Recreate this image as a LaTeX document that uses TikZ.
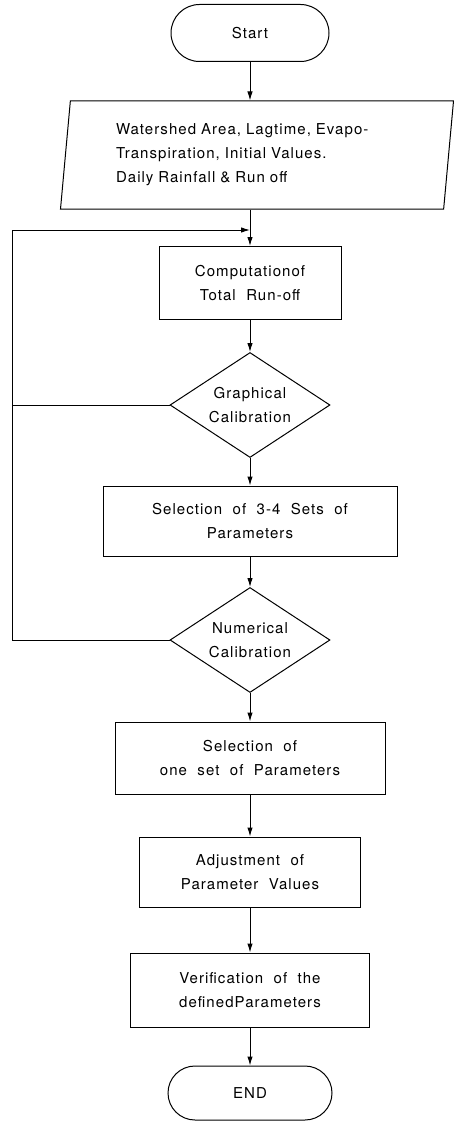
\documentclass[tikz,border=0pt]{standalone}
\usepackage{fontspec}
\setmainfont{TeX Gyre Heros}[LetterSpace=7,WordSpace=2]
\usetikzlibrary{shapes.geometric, shapes.misc, arrows.meta}

\tikzset{
  flowtext/.style={font=\fontsize{15}{24}\selectfont, align=center, inner sep=0pt},
  terminal/.style={rounded rectangle, draw, line width=1pt, flowtext},
  iobox/.style={trapezium, trapezium left angle=81, trapezium right angle=99,
    trapezium stretches body, draw, line width=1pt, flowtext, align=left},
  procbox/.style={rectangle, draw, line width=1pt, flowtext},
  decision/.style={diamond, aspect=1.52, draw, line width=1pt, flowtext,
    minimum width=160, minimum height=105},
  flow/.style={line width=1pt, -{Latex[length=9pt,width=5.5pt]}},
}

\begin{document}
\begin{tikzpicture}[x=1pt,y=-1pt]
  \path[use as bounding box] (0,0) rectangle (453,1121);
  \fill[white] (0,0) rectangle (453,1121);

  % terminals and steps, top to bottom
  \node[terminal, minimum width=158, minimum height=57] (start) at (250,33) {Start};
  \node[iobox, minimum width=393, minimum height=108, text width=282] (data) at (257,155)
    {Watershed Area, Lagtime, Evapo-\\Transpiration, Initial Values.\\Daily Rainfall \& Run off};
  \node[procbox, minimum width=182, minimum height=73] (comp) at (250,283)
    {Computationof\\Total Run-off};
  \node[decision] (graph) at (250,405) {Graphical\\Calibration};
  \node[procbox, minimum width=294, minimum height=70] (setsel) at (250,521)
    {Selection of 3-4 Sets of\\Parameters};
  \node[decision] (numcal) at (250,640) {Numerical\\Calibration};
  \node[procbox, minimum width=270, minimum height=72] (onesel) at (250,758)
    {Selection of\\one set of Parameters};
  \node[procbox, minimum width=221, minimum height=70] (adjust) at (250,872)
    {Adjustment of\\Parameter Values};
  \node[procbox, minimum width=239, minimum height=74] (verify) at (250,990)
    {Verification of the\\definedParameters};
  \node[terminal, minimum width=164, minimum height=54] (finish) at (250,1093) {END};

  % main flow
  \draw[flow] (start.south) -- (start.south |- data.north);
  \draw[flow] (data.south -| comp.north) -- (comp.north);
  \draw[flow] (comp) -- (graph);
  \draw[flow] (graph) -- (setsel);
  \draw[flow] (setsel) -- (numcal);
  \draw[flow] (numcal) -- (onesel);
  \draw[flow] (onesel) -- (adjust);
  \draw[flow] (adjust) -- (verify);
  \draw[flow] (verify) -- (finish);

  % feedback loop on the left
  \coordinate (loopcorner) at (12,230);
  \coordinate (loopmerge) at (250,230);
  \draw[flow] (numcal.west) -| (loopcorner) -- (loopmerge);
  \draw[line width=1pt] (graph.west) -- (graph.west -| loopcorner);
\end{tikzpicture}
\end{document}
